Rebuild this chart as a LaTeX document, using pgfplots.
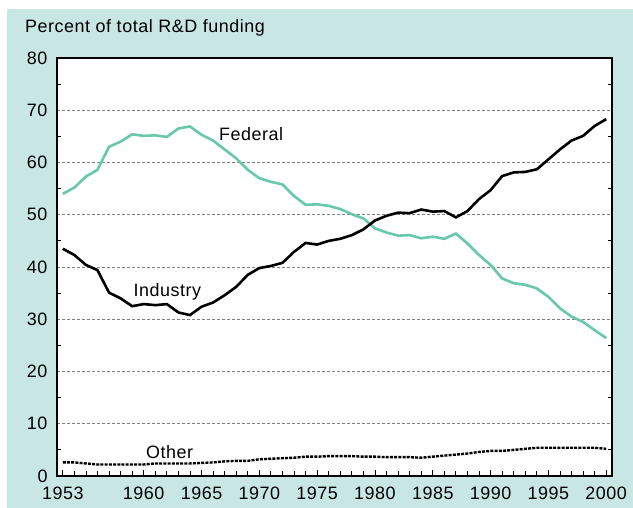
\documentclass[border=0pt]{standalone}
\usepackage{fontspec}
\setmainfont{Liberation Sans}[LetterSpace=3]
\usepackage{pgfplots}
\pgfplotsset{compat=1.18}
\usepackage{pgfplotstable}

\definecolor{bgteal}{RGB}{200,231,228}
\definecolor{fedgreen}{RGB}{104,200,172}

\pgfplotstableread{
year fed  ind  oth
1953 54.0 43.5 2.6
1954 55.2 42.3 2.6
1955 57.3 40.4 2.4
1956 58.6 39.4 2.2
1957 63.0 35.1 2.2
1958 64.0 34.0 2.2
1959 65.4 32.5 2.2
1960 65.1 32.9 2.2
1961 65.2 32.7 2.4
1962 64.9 32.9 2.4
1963 66.5 31.3 2.4
1964 66.9 30.8 2.4
1965 65.3 32.4 2.5
1966 64.2 33.2 2.6
1967 62.5 34.6 2.8
1968 60.8 36.2 2.9
1969 58.6 38.5 2.9
1970 57.0 39.8 3.2
1971 56.3 40.2 3.3
1972 55.8 40.8 3.4
1973 53.6 42.9 3.5
1974 51.9 44.6 3.7
1975 52.0 44.3 3.7
1976 51.7 45.0 3.8
1977 51.1 45.4 3.8
1978 50.1 46.1 3.8
1979 49.3 47.2 3.7
1980 47.4 48.9 3.7
1981 46.6 49.8 3.6
1982 46.0 50.4 3.6
1983 46.1 50.3 3.6
1984 45.5 51.0 3.5
1985 45.8 50.6 3.7
1986 45.4 50.7 3.9
1987 46.4 49.5 4.1
1988 44.5 50.7 4.3
1989 42.3 53.0 4.6
1990 40.4 54.7 4.8
1991 37.8 57.4 4.8
1992 36.9 58.1 5.0
1993 36.6 58.2 5.2
1994 35.9 58.7 5.4
1995 34.3 60.6 5.4
1996 32.1 62.5 5.4
1997 30.5 64.2 5.4
1998 29.5 65.1 5.4
1999 27.9 67.0 5.4
2000 26.4 68.3 5.2
}\rdshares

\begin{document}
\begin{tikzpicture}[font=\fontsize{18}{21}\selectfont]
\fill[bgteal] (-50bp,-32bp) rectangle (576bp,467bp);
\begin{axis}[
    scale only axis,
    width=555bp, height=418bp,
    xmin=1952.5, xmax=2000.5,
    ymin=0, ymax=80,
    axis background/.style={fill=white},
    axis line style={line width=1.1bp},
    xtick={1953,1960,1965,1970,1975,1980,1985,1990,1995,2000},
    minor xtick={1954,...,1999},
    xtick pos=bottom,
    ytick={0,10,...,80},
    minor ytick={5,15,...,75},
    ytick pos=both,
    tick align=inside,
    major tick length=6bp,
    minor tick length=4.5bp,
    major y tick style={draw=none},
    every tick/.style={black, line width=0.8bp},
    ymajorgrids,
    major grid style={gray, line width=0.6bp, dash pattern=on 3bp off 2bp},
    xticklabel style={/pgf/number format/1000 sep={}, yshift=-7bp},
    yticklabel style={xshift=-6bp},
    /pgf/number format/assume math mode=true,
    clip=false,
]
\addplot[fedgreen, line width=2.6bp] table[x=year, y=fed] {\rdshares};
\addplot[black, line width=2.6bp] table[x=year, y=ind] {\rdshares};
\addplot[black, line width=2.4bp, dash pattern=on 3bp off 1.2bp] table[x=year, y=oth] {\rdshares};
\node[anchor=west, inner sep=0pt] at (axis cs:1966.5,65.5) {Federal};
\node[anchor=west, inner sep=0pt] at (axis cs:1959.1,35.3) {Industry};
\node[anchor=west, inner sep=0pt] at (axis cs:1960.2,4.5) {Other};
\end{axis}
\node[anchor=base west, inner sep=0pt] at (-32bp,443bp) {Percent of total R\&D funding};
\pgfresetboundingbox
\path[use as bounding box] (-57bp,-32bp) rectangle (576bp,476bp);
\end{tikzpicture}
\end{document}
